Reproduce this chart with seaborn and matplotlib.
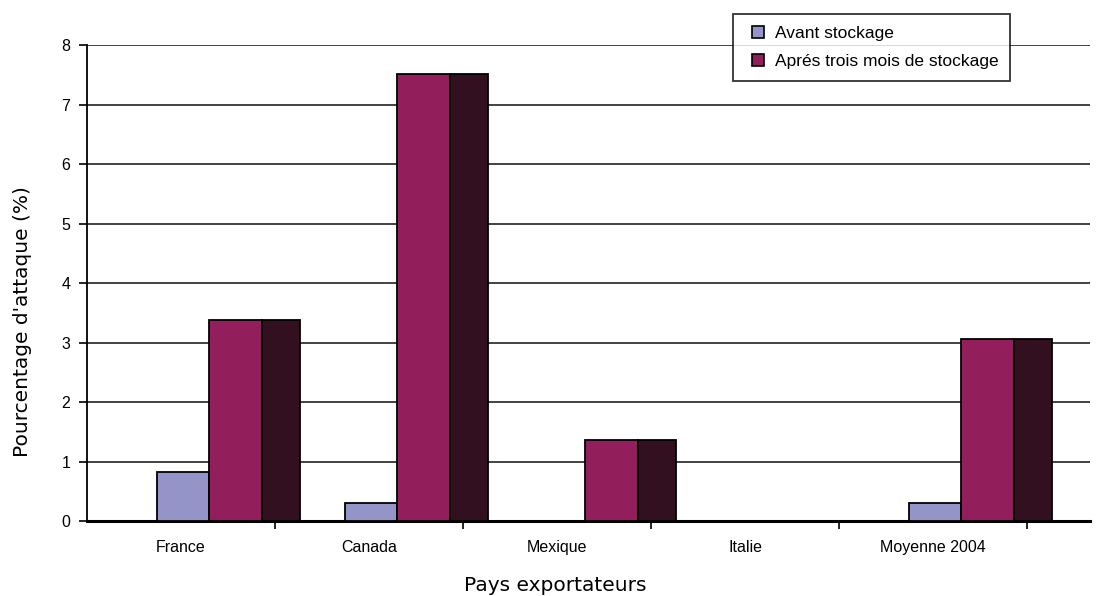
import matplotlib
matplotlib.use("Agg")
import matplotlib.pyplot as plt
from matplotlib.patches import Rectangle
from matplotlib.lines import Line2D
import seaborn as sns
import pandas as pd

# Data
pays = ["France", "Canada", "Mexique", "Italie", "Moyenne 2004"]
avant = [0.82, 0.30, 0.0, 0.0, 0.30]
apres = [3.38, 7.52, 1.37, 0.0, 3.06]
series = ["Avant stockage", "Aprés trois mois de stockage"]
y_ticks = [0, 1, 2, 3, 4, 5, 6, 7, 8]

lavande = "#9494C8"
bordeaux = "#921E5B"
sombre = "#321020"

df = pd.DataFrame({
    "pays": pays * 2,
    "valeur": avant + apres,
    "serie": [series[0]] * len(pays) + [series[1]] * len(pays),
})

sns.set_style("white")
plt.rcParams["font.family"] = ["Liberation Sans", "DejaVu Sans"]
plt.rcParams["text.color"] = "black"
plt.rcParams["axes.labelcolor"] = "black"
plt.rcParams["xtick.color"] = "black"
plt.rcParams["ytick.color"] = "black"

fig = plt.figure(figsize=(11.09, 5.96), dpi=100)
ax = fig.add_axes([0.0784, 0.1258, 0.9046, 0.7987])

sns.barplot(data=df, x="pays", y="valeur", hue="serie", order=pays,
            hue_order=series, palette=[lavande, bordeaux], width=0.56,
            edgecolor="black", linewidth=1.3, saturation=1, ax=ax, zorder=3,
            legend=False)

# Shaded side face of the rear series, giving the bars their depth
for bar in ax.containers[1]:
    x, w, h = bar.get_x(), bar.get_width(), bar.get_height()
    if h > 0:
        ax.add_patch(Rectangle((x + w, 0), w * 0.72, h, facecolor=sombre,
                               edgecolor="black", linewidth=1.3, zorder=3))

ax.set_ylim(0, 8)
ax.set_yticks(y_ticks)
ax.set_xlim(-0.65, 4.685)

# Category labels centred in their slots, tick marks on slot boundaries
ax.set_xticks([i - 0.15 for i in range(len(pays))], labels=pays)
ax.set_xticks([i + 0.35 for i in range(len(pays))], minor=True)
ax.tick_params(axis="x", which="major", length=0, pad=14, labelsize=11.5)
ax.tick_params(axis="x", which="minor", length=6, width=1.2, color="black",
               direction="out", bottom=True)
ax.tick_params(axis="y", length=6, width=1.2, color="black", left=True,
               direction="out", labelsize=11.5, pad=6)

ax.yaxis.grid(True, color="#222222", linewidth=1.2)
ax.xaxis.grid(False)
ax.set_axisbelow(True)

for side in ("top", "right"):
    ax.spines[side].set_visible(False)
ax.spines["left"].set_color("black")
ax.spines["left"].set_linewidth(1.3)
ax.spines["bottom"].set_color("black")
ax.spines["bottom"].set_linewidth(2.2)

ax.set_xlabel("Pays exportateurs", fontsize=14.5, family="DejaVu Sans")
ax.set_ylabel("Pourcentage d'attaque (%)", fontsize=14.5, family="DejaVu Sans")
# centre of the category band (slots only, excluding the depth margin)
ax.xaxis.set_label_coords((555 - 87) / (1090 - 87), -0.115)
ax.yaxis.set_label_coords(-0.055, (521 - 322) / (521 - 45))

handles = [Line2D([], [], linestyle="none", marker="s", markersize=8,
                  markerfacecolor=c, markeredgecolor="black",
                  markeredgewidth=1.2) for c in (lavande, bordeaux)]
leg = ax.legend(handles, series, loc="upper left",
                bbox_to_anchor=(733 / 1109, 1 - 14 / 596),
                bbox_transform=fig.transFigure, frameon=True, fancybox=False,
                edgecolor="black", fontsize=12.5, handlelength=1.5,
                borderpad=0.7, labelspacing=0.7, handletextpad=0.2,
                borderaxespad=0)
leg.get_frame().set_linewidth(1.3)
leg.set_zorder(10)

fig.savefig("out.png", dpi=100, facecolor="white")
